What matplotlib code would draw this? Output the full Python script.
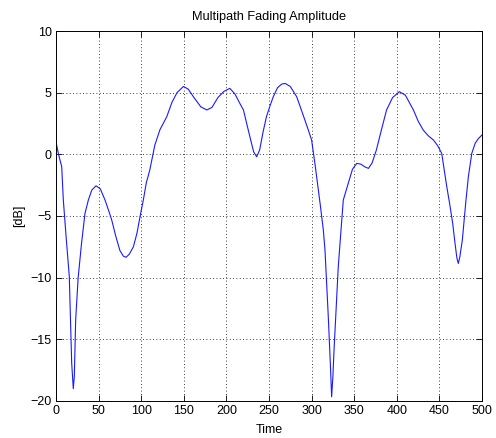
import numpy as np
import matplotlib
matplotlib.use('Agg')
import matplotlib.pyplot as plt

# fading envelope in dB, sampled along the time axis
time = [0, 3, 6.7, 8.6, 12, 15.6, 18.4, 20.3, 21.5, 23.1, 26, 30, 34, 38, 42, 47,
        52, 57.5, 62, 65.3, 70, 75, 79, 82.2, 86, 90.8, 95, 98.6, 102.5, 106, 110,
        116, 122, 130, 136, 142, 149.5, 155, 162, 170, 177, 183, 190, 197, 204, 210,
        216, 220, 224.5, 228.5, 232, 235.5, 239, 243, 247, 251, 255, 260, 265, 269,
        275, 282.5, 290, 296, 300, 304, 307, 310, 313.7, 315.7, 319.6, 322, 323.5,
        325, 326.3, 331.3, 335, 337.2, 343, 348, 353, 358, 362, 366.7, 371, 376,
        382, 388, 395, 403, 410, 419.5, 425, 431, 437, 443, 448, 452.7, 455.5,
        458.6, 462, 465.6, 468.3, 470.5, 472.2, 474, 476.9, 481.2, 484, 488, 492,
        496, 500]
amp_db = [1.0, 0.0, -1.0, -3.7, -6.8, -9.9, -16.9, -19.0, -18.0, -13.4, -10.0, -7.2,
          -4.8, -3.7, -2.9, -2.55, -2.8, -3.7, -4.6, -5.3, -6.6, -7.8, -8.25, -8.35,
          -8.1, -7.5, -6.4, -5.06, -3.7, -2.3, -1.3, 0.75, 2.0, 3.05, 4.2, 5.0, 5.5,
          5.3, 4.6, 3.85, 3.6, 3.8, 4.6, 5.1, 5.35, 4.9, 4.1, 3.6, 2.3, 1.16, 0.2,
          -0.2, 0.35, 1.8, 3.05, 3.9, 4.67, 5.4, 5.7, 5.75, 5.5, 4.67, 3.2, 2.0, 1.16,
          -0.8, -2.4, -4.0, -6.1, -7.76, -13.2, -17.0, -19.66, -18.0, -15.9, -9.1,
          -5.7, -3.7, -2.35, -1.2, -0.73, -0.8, -1.0, -1.14, -0.7, 0.35, 2.0, 3.6,
          4.6, 5.08, 4.8, 3.6, 2.7, 1.97, 1.5, 1.16, 0.7, 0.08, -1.2, -2.6, -4.0,
          -5.6, -7.2, -8.4, -8.85, -8.3, -6.95, -3.7, -1.8, 0.08, 0.9, 1.3, 1.57]

xticks = np.arange(0, 501, 50)
yticks = np.arange(-20, 11, 5)

plt.rcParams['font.family'] = ['Liberation Sans', 'DejaVu Sans']

fig = plt.figure(figsize=(4.96, 4.38), dpi=100)
ax = fig.add_axes([0.1129, 0.0845, 0.8589, 0.8447])

ax.plot(time, amp_db, color='#1a1aff', linewidth=0.8)

ax.set_xlim(0, 500)
ax.set_ylim(-20, 10)
ax.set_xticks(xticks)
ax.set_yticks(yticks)
ax.grid(True, color='black', linestyle=(0, (1, 3)), linewidth=0.6)
ax.tick_params(direction='in', top=True, right=True, length=4, width=0.6,
               labelsize=9, pad=3)
for s in ax.spines.values():
    s.set_linewidth(0.7)

ax.set_title('Multipath Fading Amplitude', fontsize=9.2, pad=8)
ax.set_xlabel('Time', fontsize=9, labelpad=5)
ax.set_ylabel('[dB]', fontsize=9, labelpad=4)

fig.savefig('out.png', dpi=100)
